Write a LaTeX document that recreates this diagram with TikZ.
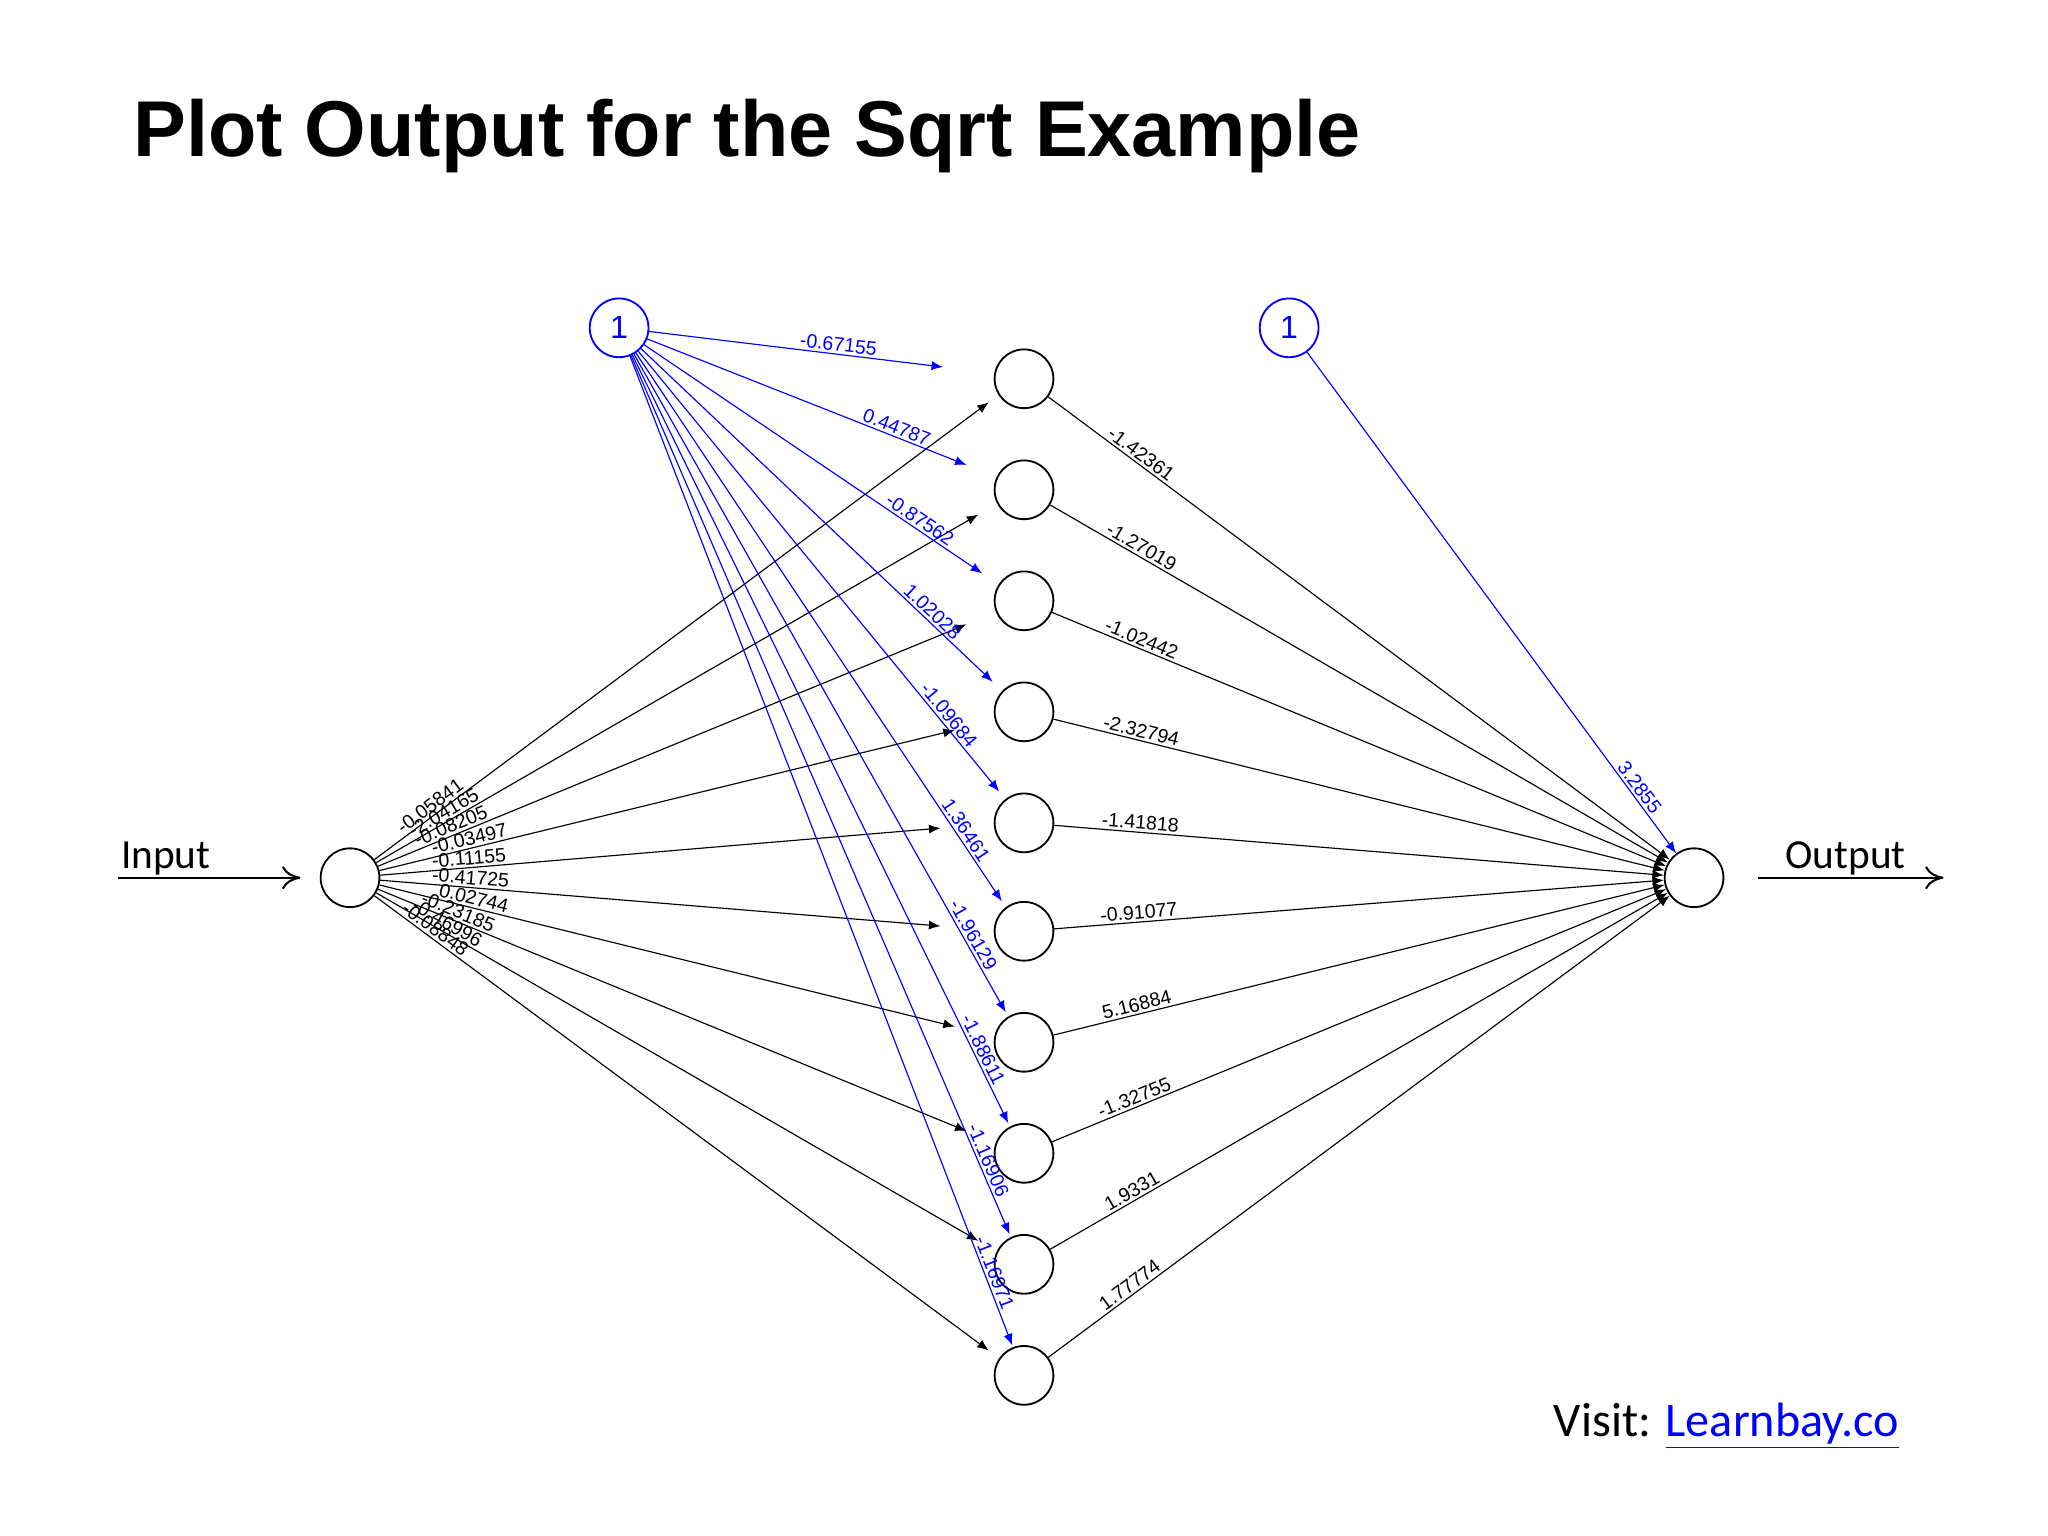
\documentclass[tikz,border=0pt]{standalone}
\usepackage{fontspec}
\setmainfont{Liberation Sans}
\newfontfamily\calib{Carlito}
\usetikzlibrary{arrows.meta}
\begin{document}
\begin{tikzpicture}[x=0.02cm,y=-0.02cm,
  neuron/.style={circle,draw,thick,minimum size=0.9cm,inner sep=0pt},
  biasn/.style={neuron,draw=blue,text=blue,font=\fontsize{14}{14}\selectfont},
  wt/.style={font=\fontsize{8.5}{9}\selectfont,sloped,inner sep=1pt},
  bw/.style={wt,text=blue},
  blk/.style={-{Latex[length=5pt,width=4pt]},black,line width=0.5pt},
  blu/.style={-{Latex[length=5pt,width=4pt]},blue,line width=0.5pt}]
\useasboundingbox (0,0) rectangle (1568,1176);
\node[anchor=west,font=\bfseries\fontsize{34.5}{36}\selectfont] (title) at (96,104) {Plot Output for the Sqrt Example};
\node[neuron] (in) at (268,672) {};
\node[neuron] (out) at (1297,672) {};
\node[biasn] (b1) at (474,251) {1};
\node[biasn] (b2) at (987,251) {1};
\foreach \i/\y in {1/290,2/375,3/460,4/545,5/630,6/713,7/798,8/883,9/968,10/1053}
  \node[neuron] (h\i) at (784,\y) {};
\foreach \i/\x/\y in {1/757/308,2/749/394,3/740/478,4/731/559,5/720/634,6/720/709,7/731/786,8/740/866,9/749/950,10/757/1034}
  \coordinate (e\i) at (\x,\y);
\foreach \i/\x/\y in {1/722/281,2/740/356,3/752/439,4/760/522,5/765/606,6/767/690,7/770/775,8/772/860,9/773/945,10/775/1030}
  \coordinate (f\i) at (\x,\y);
\foreach \i/\w/\p in {1/-0.05841/0.1,2/-2.04165/0.12,3/-0.08205/0.13,4/-0.03497/0.16,5/-0.11155/0.16,6/-0.41725/0.16,7/0.02744/0.16,8/-0.23185/0.13,9/-0.46996/0.11,10/-0.08848/0.09}
  \draw[blk] (in) -- node[wt,above,pos=\p]{\w} (e\i);
\foreach \i/\w/\p in {1/-0.67155/0.64,2/0.44787/0.77,3/-0.87562/0.8,4/1.02028/0.81,5/-1.09684/0.84,6/1.36461/0.88,7/-1.96129/0.89,8/-1.88611/0.91,9/-1.16906/0.92,10/-1.16971/0.93}
  \draw[blu] (b1) -- node[bw,above,pos=\p]{\w} (f\i);
\foreach \i/\w in {1/-1.42361,2/-1.27019,3/-1.02442,4/-2.32794,5/-1.41818,6/-0.91077,7/5.16884,8/-1.32755,9/1.9331,10/1.77774}
  \draw[blk] (h\i) -- node[wt,above,pos=0.14]{\w} (out);
\draw[blu] (b2) -- node[bw,above,pos=0.88]{3.2855} (out);
\coordinate (ia) at (90,672);
\coordinate (ib) at (230,672);
\draw[-{To[length=8pt,width=10pt]},line width=0.9pt] (ia) -- (ib);
\node[font=\calib\fontsize{18}{18}\selectfont,anchor=south,inner sep=1pt] (inl) at (127,672) {Input};
\coordinate (oa2) at (1346,672);
\coordinate (ob2) at (1488,672);
\draw[-{To[length=8pt,width=10pt]},line width=0.9pt] (oa2) -- (ob2);
\node[font=\calib\fontsize{18}{18}\selectfont,anchor=south,inner sep=1pt] (outl) at (1413,672) {Output};
\node[font=\calib\fontsize{21}{22}\selectfont,anchor=east] (visit) at (1460,1092) {Visit: \textcolor{blue}{\underline{Learnbay.co}}};
\end{tikzpicture}
\end{document}
